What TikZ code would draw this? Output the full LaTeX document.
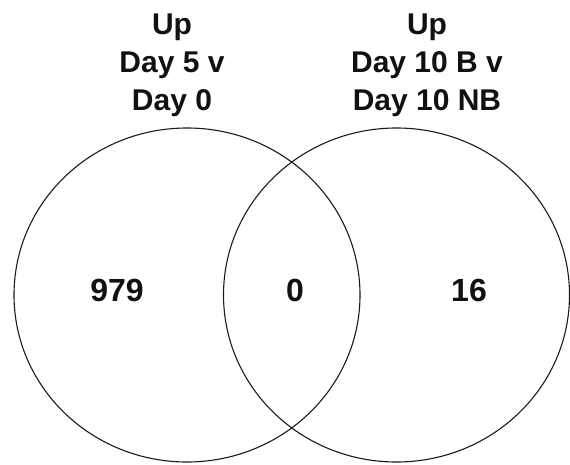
\documentclass[tikz,border=0pt]{standalone}
\usepackage{fontspec}
\setmainfont{Liberation Sans}
\definecolor{ink}{HTML}{111111}
\definecolor{rim}{HTML}{1A1A1A}
\usetikzlibrary{positioning,shapes.geometric}

\begin{document}
\begin{tikzpicture}[x=1pt,y=-1pt,every node/.style={font=\bfseries,text=ink}]
\tikzstyle{setring}=[ellipse,draw=rim,line width=1.1pt,inner sep=0pt,minimum width=346pt,minimum height=334pt]
\tikzstyle{title}=[align=center,anchor=north,inner sep=0pt,font=\bfseries\fontsize{30}{38}\selectfont]
\tikzstyle{count}=[inner sep=0pt,font=\bfseries\fontsize{32}{32}\selectfont]
\useasboundingbox (0,0) rectangle (570,465);
\node[setring] (dayfive) at (187,295) {};
\node[setring] (dayten) at (396.5,295) {};
\node[title] (dayfivelbl) at (172,14) {Up\\Day 5 v\\Day 0};
\node[title] (daytenlbl) at (427,14) {Up\\Day 10 B v\\Day 10 NB};
\node[count] (onlyfive) at (117,290) {979};
\node[count] (both) at (295,290) {0};
\node[count] (onlyten) at (469,290) {16};
\end{tikzpicture}
\end{document}
